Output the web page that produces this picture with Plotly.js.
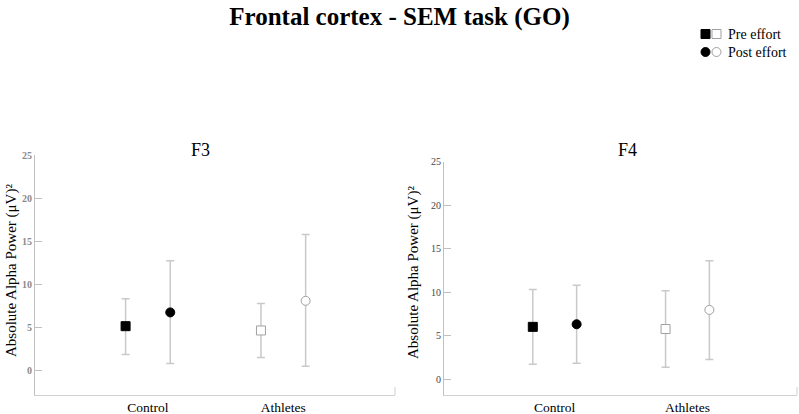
<!DOCTYPE html>
<html>
<head>
<meta charset="utf-8">
<script src="https://cdn.plot.ly/plotly-3.0.1.min.js"></script>
<style>html,body{margin:0;padding:0;background:#fff;}#chart{width:799px;height:414px;}</style>
</head>
<body>
<div id="chart"></div>
<script>
// ---- Data ----
var categories = ['Control', 'Athletes'];
var panelTitles = ['F3', 'F4'];
var yTickVals = [0, 5, 10, 15, 20, 25];

// F3
var f3PreMean   = [5.1, 4.6];
var f3PreUpper  = [8.3, 7.75];
var f3PreLower  = [1.8, 1.45];
var f3PostMean  = [6.7, 8.05];
var f3PostUpper = [12.7, 15.75];
var f3PostLower = [0.75, 0.45];

// F4
var f4PreMean   = [6.0, 5.75];
var f4PreUpper  = [10.3, 10.15];
var f4PreLower  = [1.7, 1.35];
var f4PostMean  = [6.3, 7.95];
var f4PostUpper = [10.8, 13.6];
var f4PostLower = [1.8, 2.25];

// ---- Styling ----
var FONT = 'Liberation Serif';
var ERR_COLOR = '#c9c9c9';
var fillColors = ['#000000', '#ffffff'];
var lineColors = ['#000000', '#a0a0a0'];
var OFFSET = 0.165;

function pos(shift) { return categories.map(function (c, i) { return i + shift; }); }
function plus(upper, mean) { return upper.map(function (u, i) { return u - mean[i]; }); }
function minus(lower, mean) { return lower.map(function (l, i) { return mean[i] - l; }); }

function makeTrace(mean, upper, lower, shift, symbol, xa, ya) {
  return {
    type: 'scatter', mode: 'markers', xaxis: xa, yaxis: ya,
    x: pos(shift), y: mean, showlegend: false, hoverinfo: 'skip',
    marker: { symbol: symbol, size: 9, color: fillColors, line: { color: lineColors, width: 1 } },
    error_y: { type: 'data', symmetric: false, array: plus(upper, mean), arrayminus: minus(lower, mean),
               color: ERR_COLOR, thickness: 1.5, width: 4 }
  };
}

var traces = [
  makeTrace(f3PreMean, f3PreUpper, f3PreLower, -OFFSET, 'square', 'x', 'y'),
  makeTrace(f3PostMean, f3PostUpper, f3PostLower, OFFSET, 'circle', 'x', 'y'),
  makeTrace(f4PreMean, f4PreUpper, f4PreLower, -OFFSET, 'square', 'x2', 'y2'),
  makeTrace(f4PostMean, f4PostUpper, f4PostLower, OFFSET, 'circle', 'x2', 'y2')
];

function xAxis(domain, anchor) {
  return {
    domain: domain, anchor: anchor, range: [-0.834, 1.825],
    tickmode: 'array', tickvals: [0, 1], ticktext: categories,
    ticks: '', ticklen: 0, showgrid: false, zeroline: false,
    showline: true, linecolor: '#d0d0d0', linewidth: 1,
    tickfont: { family: FONT, size: 13.5, color: '#000' }, fixedrange: true
  };
}
function yAxis(domain, anchor, range, tickColor, bold) {
  return {
    domain: domain, anchor: anchor, range: range,
    tickmode: 'array', tickvals: yTickVals,
    ticktext: yTickVals.map(function (v) { return bold ? '<b>' + v + '</b>' : String(v); }),
    ticks: 'inside', ticklen: 7, tickcolor: '#c0c0c0', tickwidth: 1,
    showgrid: false, zeroline: false, showline: true, linecolor: '#c0c0c0', linewidth: 1,
    tickfont: { family: FONT, size: 10, color: tickColor }, fixedrange: true
  };
}

var layout = {
  width: 799, height: 414,
  margin: { l: 0, r: 0, t: 0, b: 0 },
  paper_bgcolor: '#fff', plot_bgcolor: '#fff',
  showlegend: false,
  title: { text: '<b>Frontal cortex - SEM task (GO)</b>', font: { family: FONT, size: 25, color: '#000' },
           x: 0.5, xanchor: 'center', y: 1 - 16 / 414, yanchor: 'middle', yref: 'container' },
  xaxis: xAxis([35 / 799, 395 / 799], 'y'),
  yaxis: yAxis([1 - 395 / 414, 1 - 155 / 414], 'x', [-2.9, 25], '#8a8a8a', true),
  xaxis2: xAxis([444 / 799, 797 / 799], 'y2'),
  yaxis2: yAxis([1 - 395 / 414, 1 - 161.7 / 414], 'x2', [-1.84, 25], '#444444', false),
  annotations: [
    { text: panelTitles[0], xref: 'paper', yref: 'paper', x: 200 / 799, y: 1 - 150 / 414,
      xanchor: 'center', yanchor: 'middle', showarrow: false, font: { family: FONT, size: 18, color: '#000' } },
    { text: panelTitles[1], xref: 'paper', yref: 'paper', x: 627 / 799, y: 1 - 150 / 414,
      xanchor: 'center', yanchor: 'middle', showarrow: false, font: { family: FONT, size: 18, color: '#000' } },
    { text: 'Absolute Alpha Power (μV)²', xref: 'paper', yref: 'paper', x: 11 / 799, y: 1 - 271 / 414,
      xanchor: 'center', yanchor: 'middle', textangle: -90, showarrow: false, font: { family: FONT, size: 15, color: '#000' } },
    { text: 'Absolute Alpha Power (μV)²', xref: 'paper', yref: 'paper', x: 413 / 799, y: 1 - 273 / 414,
      xanchor: 'center', yanchor: 'middle', textangle: -90, showarrow: false, font: { family: FONT, size: 15, color: '#000' } },
    { text: 'Pre effort', xref: 'paper', yref: 'paper', x: 726 / 799, y: 1 - 34 / 414,
      xanchor: 'left', yanchor: 'middle', showarrow: false, font: { family: FONT, size: 14, color: '#000' } },
    { text: 'Post effort', xref: 'paper', yref: 'paper', x: 726 / 799, y: 1 - 52 / 414,
      xanchor: 'left', yanchor: 'middle', showarrow: false, font: { family: FONT, size: 14, color: '#000' } }
  ],
  shapes: [
    // right-end ticks of the x axes
    { type: 'line', xref: 'x domain', yref: 'paper', x0: 1, x1: 1, y0: 1 - 395 / 414, y1: 1 - 387 / 414, line: { color: '#d0d0d0', width: 1 } },
    { type: 'line', xref: 'x2 domain', yref: 'paper', x0: 1, x1: 1, y0: 1 - 395 / 414, y1: 1 - 387 / 414, line: { color: '#d0d0d0', width: 1 } },
    // legend glyphs
    { type: 'rect', xref: 'paper', yref: 'paper', x0: 701 / 799, x1: 710 / 799, y0: 1 - 38.5 / 414, y1: 1 - 29.5 / 414, fillcolor: '#000', line: { color: '#000', width: 1 } },
    { type: 'rect', xref: 'paper', yref: 'paper', x0: 712 / 799, x1: 721 / 799, y0: 1 - 38.5 / 414, y1: 1 - 29.5 / 414, fillcolor: '#fff', line: { color: '#a0a0a0', width: 1 } },
    { type: 'circle', xref: 'paper', yref: 'paper', x0: 701 / 799, x1: 710 / 799, y0: 1 - 56.5 / 414, y1: 1 - 47.5 / 414, fillcolor: '#000', line: { color: '#000', width: 1 } },
    { type: 'circle', xref: 'paper', yref: 'paper', x0: 712 / 799, x1: 721 / 799, y0: 1 - 56.5 / 414, y1: 1 - 47.5 / 414, fillcolor: '#fff', line: { color: '#a0a0a0', width: 1 } }
  ]
};

Plotly.newPlot('chart', traces, layout, { staticPlot: true, displayModeBar: false });
</script>
</body>
</html>
